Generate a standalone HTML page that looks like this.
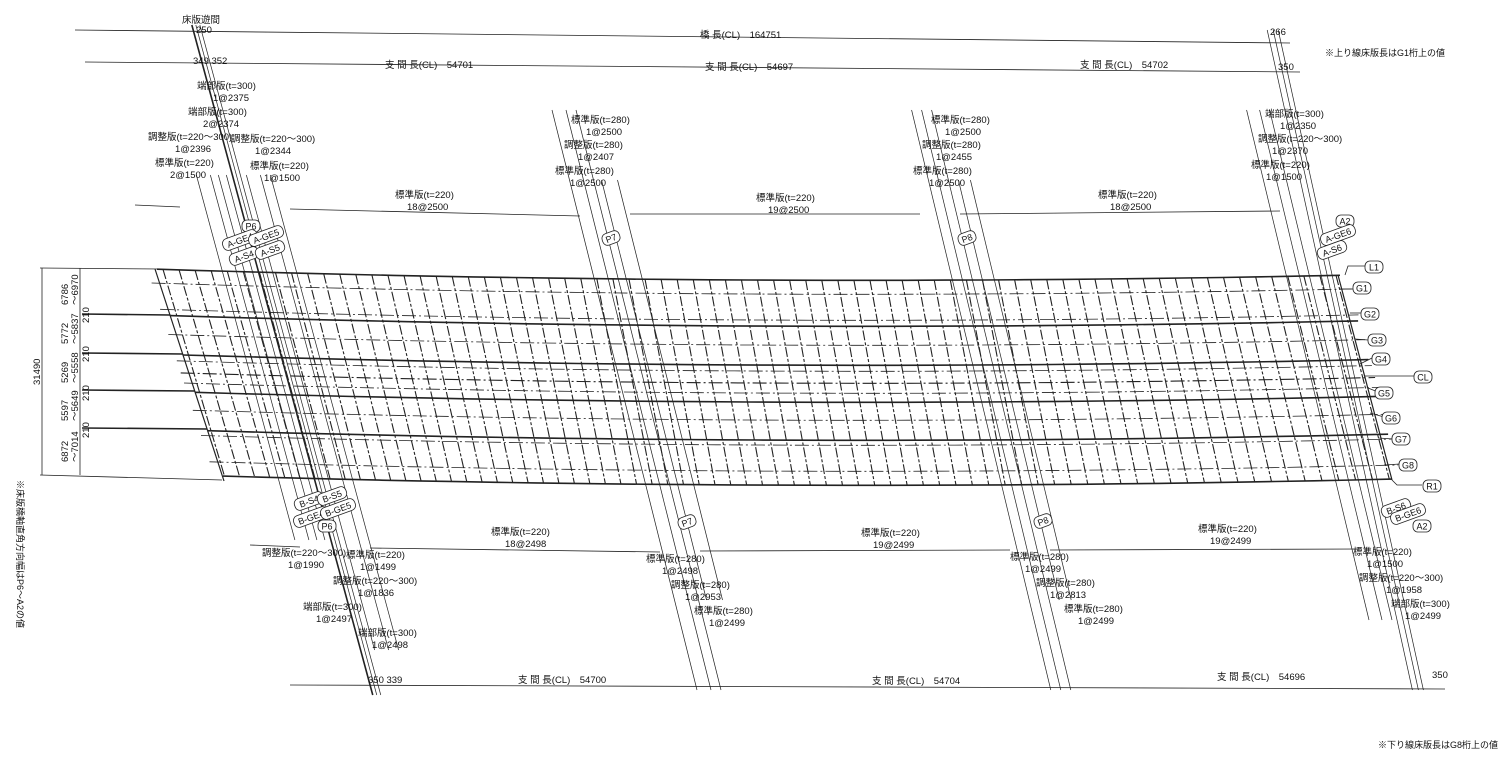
<!DOCTYPE html>
<html><head><meta charset="utf-8">
<style>
html,body{margin:0;padding:0;background:#fff;}
svg{display:block}
text{font-family:"Liberation Sans","Noto Sans CJK JP",sans-serif;font-size:9.5px;fill:#111;}
.lb{font-size:9px}
</style></head>
<body>
<svg id="s" width="1500" height="759" viewBox="0 0 1500 759" xmlns="http://www.w3.org/2000/svg">
<g id="g" stroke="#222" fill="none" stroke-width="0.8"></g>
<g id="t">
<text x="182" y="23">床版遊間</text><text x="196" y="33">250</text>
<text x="700" y="38">橋 長(CL)　164751</text>
<text x="1270" y="35">266</text>
<text x="1325" y="56" style="font-size:9px">※上り線床版長はG1桁上の値</text>
<text x="193" y="64">349 352</text>
<text x="385" y="68">支 間 長(CL)　54701</text>
<text x="705" y="70">支 間 長(CL)　54697</text>
<text x="1080" y="68">支 間 長(CL)　54702</text>
<text x="1278" y="70">350</text>
<text x="197" y="89">端部版(t=300)</text><text x="213" y="101">1@2375</text>
<text x="188" y="115">端部版(t=300)</text><text x="203" y="127">2@2374</text>
<text x="148" y="140">調整版(t=220～300)</text><text x="175" y="152">1@2396</text>
<text x="231" y="142">調整版(t=220～300)</text><text x="255" y="154">1@2344</text>
<text x="155" y="166">標準版(t=220)</text><text x="170" y="178">2@1500</text>
<text x="250" y="169">標準版(t=220)</text><text x="264" y="181">1@1500</text>
<text x="395" y="198">標準版(t=220)</text><text x="407" y="210">18@2500</text>
<text x="756" y="201">標準版(t=220)</text><text x="768" y="213">19@2500</text>
<text x="1098" y="198">標準版(t=220)</text><text x="1110" y="210">18@2500</text>
<text x="571" y="123">標準版(t=280)</text><text x="586" y="135">1@2500</text>
<text x="564" y="148">調整版(t=280)</text><text x="578" y="160">1@2407</text>
<text x="555" y="174">標準版(t=280)</text><text x="570" y="186">1@2500</text>
<text x="931" y="123">標準版(t=280)</text><text x="945" y="135">1@2500</text>
<text x="922" y="148">調整版(t=280)</text><text x="936" y="160">1@2455</text>
<text x="913" y="174">標準版(t=280)</text><text x="929" y="186">1@2500</text>
<text x="1265" y="117">端部版(t=300)</text><text x="1280" y="129">1@2350</text>
<text x="1258" y="142">調整版(t=220～300)</text><text x="1272" y="154">1@2370</text>
<text x="1251" y="168">標準版(t=220)</text><text x="1266" y="180">1@1500</text>
<text x="491" y="535">標準版(t=220)</text><text x="505" y="547">18@2498</text>
<text x="861" y="536">標準版(t=220)</text><text x="873" y="548">19@2499</text>
<text x="1198" y="532">標準版(t=220)</text><text x="1210" y="544">19@2499</text>
<text x="262" y="556">調整版(t=220～300)</text><text x="288" y="568">1@1990</text>
<text x="346" y="558">標準版(t=220)</text><text x="360" y="570">1@1499</text>
<text x="333" y="584">調整版(t=220～300)</text><text x="358" y="596">1@1836</text>
<text x="303" y="610">端部版(t=300)</text><text x="316" y="622">1@2497</text>
<text x="358" y="636">端部版(t=300)</text><text x="372" y="648">1@2498</text>
<text x="646" y="562">標準版(t=280)</text><text x="662" y="574">1@2498</text>
<text x="671" y="588">調整版(t=280)</text><text x="685" y="600">1@2953</text>
<text x="694" y="614">標準版(t=280)</text><text x="709" y="626">1@2499</text>
<text x="1010" y="560">標準版(t=280)</text><text x="1025" y="572">1@2499</text>
<text x="1036" y="586">調整版(t=280)</text><text x="1050" y="598">1@2813</text>
<text x="1064" y="612">標準版(t=280)</text><text x="1078" y="624">1@2499</text>
<text x="1353" y="555">標準版(t=220)</text><text x="1367" y="567">1@1500</text>
<text x="1359" y="581">調整版(t=220～300)</text><text x="1386" y="593">1@1958</text>
<text x="1391" y="607">端部版(t=300)</text><text x="1405" y="619">1@2499</text>
<text x="368" y="683">350 339</text>
<text x="518" y="683">支 間 長(CL)　54700</text>
<text x="872" y="684">支 間 長(CL)　54704</text>
<text x="1217" y="680">支 間 長(CL)　54696</text>
<text x="1432" y="678">350</text>
<text x="1378" y="748" style="font-size:9px">※下り線床版長はG8桁上の値</text>
<text transform="translate(40,385) rotate(-90)">31490</text>
<text transform="translate(68,305) rotate(-90)">6786</text><text transform="translate(78,305) rotate(-90)">～6970</text>
<text transform="translate(68,344) rotate(-90)">5772</text><text transform="translate(78,344) rotate(-90)">～5837</text>
<text transform="translate(68,383) rotate(-90)">5269</text><text transform="translate(78,383) rotate(-90)">～5558</text>
<text transform="translate(68,421) rotate(-90)">5597</text><text transform="translate(78,421) rotate(-90)">～5649</text>
<text transform="translate(68,462) rotate(-90)">6872</text><text transform="translate(78,462) rotate(-90)">～7014</text>
<text transform="translate(89,323) rotate(-90)">210</text>
<text transform="translate(89,362) rotate(-90)">210</text>
<text transform="translate(89,401) rotate(-90)">210</text>
<text transform="translate(89,438) rotate(-90)">210</text>
<text transform="translate(17,480) rotate(90)" style="font-size:9px">※床版橋軸直角方向幅はP6～A2の値</text>
</g>
</svg>
<script>
var g=document.getElementById('g'),NS='http://www.w3.org/2000/svg';
function L(x1,y1,x2,y2,w,da,c){var e=document.createElementNS(NS,'line');e.setAttribute('x1',x1);e.setAttribute('y1',y1);e.setAttribute('x2',x2);e.setAttribute('y2',y2);if(w)e.setAttribute('stroke-width',w);if(da)e.setAttribute('stroke-dasharray',da);if(c)e.setAttribute('stroke',c);g.appendChild(e);}
function P(d,w,da){var e=document.createElementNS(NS,'path');e.setAttribute('d',d);if(w)e.setAttribute('stroke-width',w);if(da)e.setAttribute('stroke-dasharray',da);g.appendChild(e);}
function tag(x,y,s,rot){var t=document.createElementNS(NS,'g');t.setAttribute('transform','translate('+x+','+y+') rotate('+(rot||0)+')');var w=s.length*6+6;
 var r=document.createElementNS(NS,'rect');r.setAttribute('x',-w/2);r.setAttribute('y',-6);r.setAttribute('width',w);r.setAttribute('height',12);r.setAttribute('rx',5);r.setAttribute('fill','#fff');r.setAttribute('stroke','#222');r.setAttribute('stroke-width','0.8');t.appendChild(r);
 var tx=document.createElementNS(NS,'text');tx.setAttribute('x',0);tx.setAttribute('y',3.5);tx.setAttribute('text-anchor','middle');tx.setAttribute('class','lb');tx.textContent=s;t.appendChild(tx);document.getElementById('s').appendChild(t);}
function Y(x,b){return b+6*(x-160)/1180+8*(1-Math.pow((x-750)/600,2));}
function xl(y){return 155+(y-269)*0.327;}
function xr(y){return 1338+(y-275)*0.263;}
function curve(b,x1,x2,w,da){var d='';for(var i=0;i<=30;i++){var x=x1+(x2-x1)*i/30;d+=(i?'L':'M')+x.toFixed(1)+','+(Y(x,b)).toFixed(1);}P(d,w,da);}
curve(269,157,1340,1.6);
curve(474,223,1392,1.6);
var gb=[[283,'G1'],[309,'G2'],[334,'G3'],[360,'G4'],[372,'CL'],[382,'G5'],[409,'G6'],[434,'G7'],[460,'G8']];
gb.forEach(function(a){curve(a[0],xl(a[0])-8,xr(a[0]+6)+10,a[1]=='CL'?1.1:0.8,'14 3 2 3');});
[315,354,391,429].forEach(function(b){var y=b;P('M82,'+(y-1)+' L'+xl(y)+','+y,1.6);curve(b,xl(y),xr(y+6)+8,1.6);});
var N=73;
for(var i=0;i<=N;i++){var t=i/N;var xt=163+t*(1336-163);var yt=Y(xt,269);var sk=0.3-0.2*Math.sin(Math.PI*t)*0.5-0.04*t;var xb=xt+205*sk;var yb=Y(xb,474);L(xt,yt,xb,yb,1.1,'10 2 3 2');}
L(155,269,224,481,1.2);L(1338,275,1392,480,1.2);
L(75,30,1290,43,0.8);L(85,62,1300,72,0.8);
L(135,205,180,207);L(290,209,580,216);L(630,214,920,214);L(960,214,1280,211);
L(250,545,300,547);L(370,548,660,552);L(700,551,1010,550);L(1050,550,1360,549);
L(290,685,1445,689);
L(42,268,42,475);L(80,268,80,475);L(40,268,160,269);L(40,475,222,480);
function grp(xs,y1,y2,sk){xs.forEach(function(x){L(x+(y1-270)*sk,y1,x+(y2-270)*sk,y2,0.7);});}
grp([222,236,244,252],175,540,0.27);
grp([258,262,266],25,695,0.27);
grp([272,286,296],175,650,0.27);
L(258+(-245)*0.27,25,258+(425)*0.27,695,1.6);
grp([592,606,616],110,690,0.25);
grp([624,640],180,600,0.25);
grp([950,960,970],110,690,0.24);
grp([980,992],180,600,0.24);
grp([1285,1298,1308],110,620,0.24);
grp([1320,1326,1331],30,690,0.22);
P('M1345,275 L1348,266 L1368,266');P('M1340,289 L1355,289');P('M1350,313 L1362,313');P('M1355,339 L1368,340');
P('M1360,364 L1372,358');P('M1365,376 L1416,376');P('M1368,388 L1378,392');P('M1370,413 L1384,417');
P('M1378,438 L1394,439');P('M1384,465 L1400,464');P('M1392,480 L1397,485 L1422,485');
</script>
<script>
[[1374,267,'L1'],[1362,288,'G1'],[1370,314,'G2'],[1377,340,'G3'],[1381,359,'G4'],[1423,377,'CL'],[1384,393,'G5'],[1391,418,'G6'],[1401,439,'G7'],[1408,465,'G8'],[1432,486,'R1'],
[1345,221,'A2'],[1338,235,'A-GE6',-20],[1332,250,'A-S6',-20],
[251,226,'P6'],[240,240,'A-GE4',-20],[266,236,'A-GE5',-20],[244,256,'A-S4',-20],[270,250,'A-S5',-20],
[309,501,'B-S4',-20],[332,496,'B-S5',-20],[311,517,'B-GE4',-20],[338,509,'B-GE5',-20],[327,526,'P6'],
[611,238,'P7',-20],[687,522,'P7',-20],[967,238,'P8',-20],[1043,521,'P8',-20],
[1396,508,'B-S6',-20],[1408,514,'B-GE6',-20],[1422,526,'A2']].forEach(function(a){tag(a[0],a[1],a[2],a[3]);});
</script>
</body></html>
